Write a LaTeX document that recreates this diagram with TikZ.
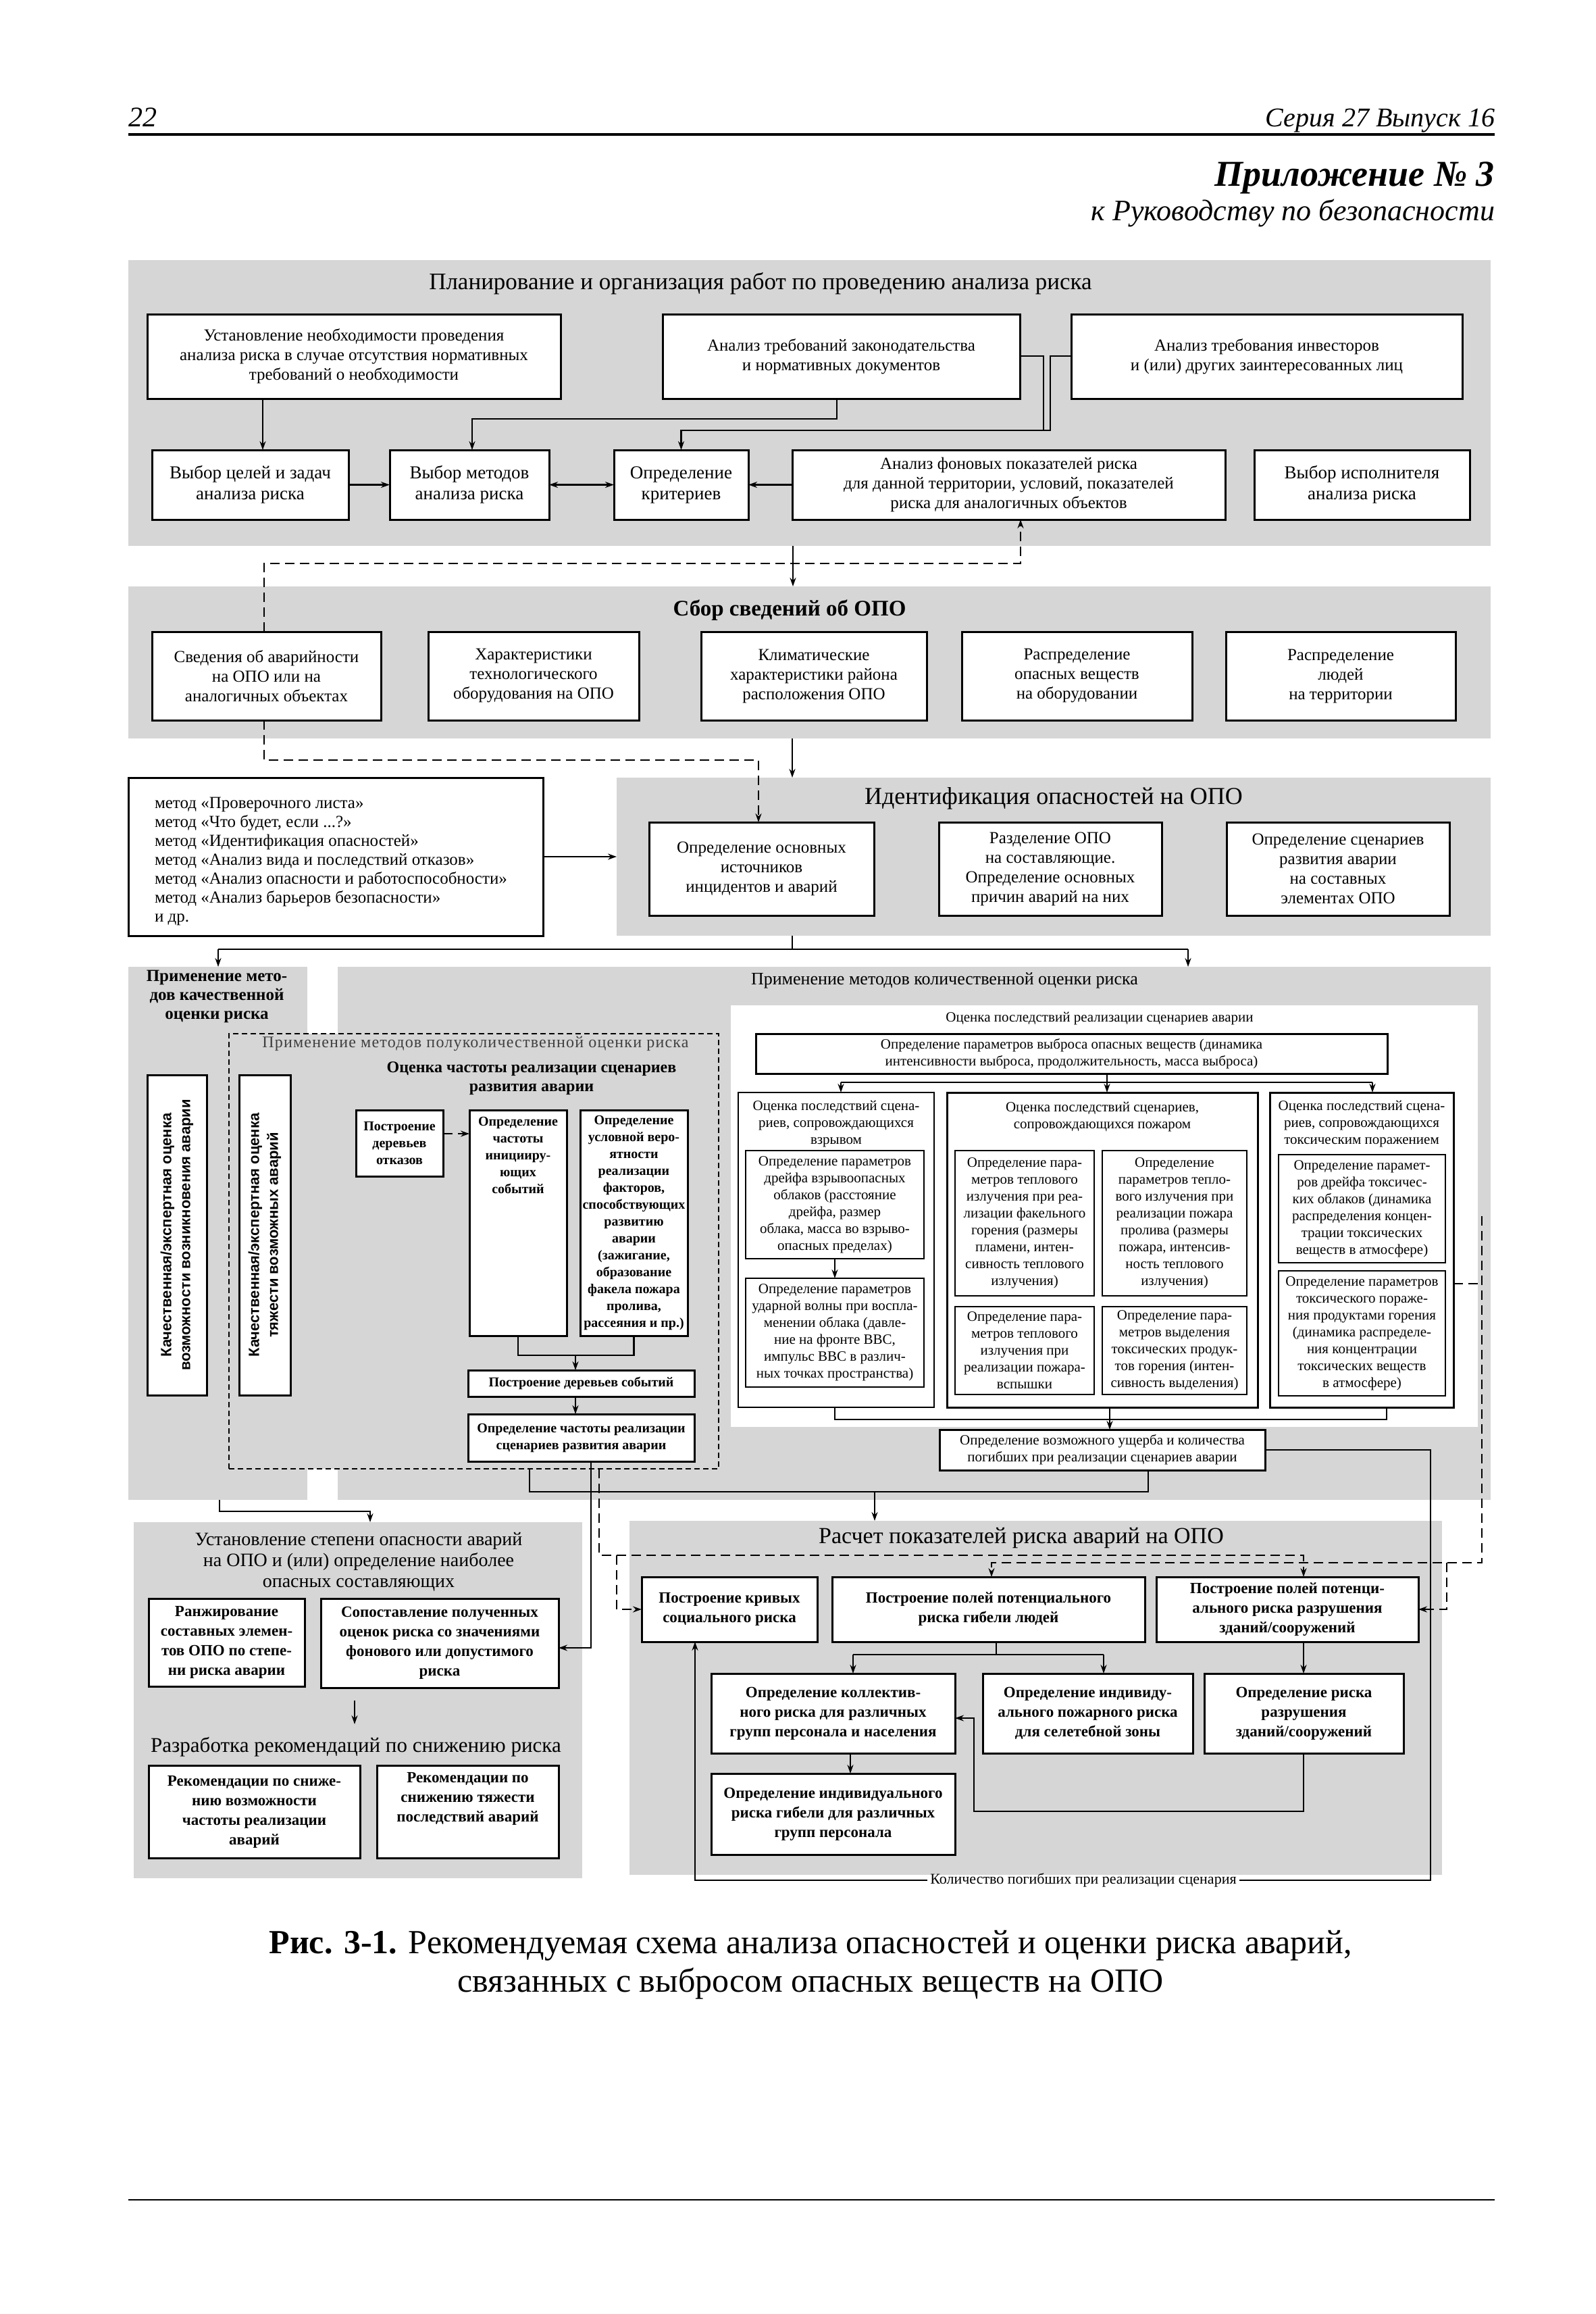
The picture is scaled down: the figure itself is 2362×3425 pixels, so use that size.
\documentclass[tikz,border=0pt]{standalone}
\usepackage{fontspec}
\setmainfont{Liberation Serif}
\newfontfamily\sansf{Liberation Sans}
\usetikzlibrary{arrows.meta,calc}
\definecolor{bandgray}{gray}{0.84}
\newcommand{\FS}[2]{\fontsize{#1}{#2}\selectfont}
\newcommand{\BX}[7][]{\node[box,#1,minimum width={#5-#3},minimum height={#6-#4}] (#2) at ({(#3+#5)/2},{(#4+#6)/2}) {#7};}
\begin{document}
\begin{tikzpicture}[x=1pt,y=-1pt,
 box/.style={draw,line width=3pt,fill=white,align=center,inner sep=2pt,outer sep=0pt,font=\FS{25}{29}},
 band/.style={fill=bandgray,draw=none,inner sep=0pt,outer sep=0pt},
 fb/.style={font=\FS{27}{31}},
 q/.style={font=\FS{21}{25}},
 qb/.style={font={\FS{20}{25}\bfseries}},
 bb/.style={font={\FS{23}{29}\bfseries}},
 thinb/.style={line width=2pt},
 lbl/.style={inner sep=0pt,outer sep=0pt,align=center},
 ln/.style={line width=2.5pt},
 arr/.style={line width=2.5pt,-{Stealth[length=13pt,width=9pt]}},
 arrs/.style={line width=2.5pt,{Stealth[length=13pt,width=9pt]}-{Stealth[length=13pt,width=9pt]}},
 dln/.style={line width=2.5pt,dash pattern=on 14pt off 8pt},
 darr/.style={dln,-{Stealth[length=13pt,width=9pt]}},
]
\fill[white] (0,0) rectangle (2362,3425);
\useasboundingbox (0,0) rectangle (2362,3425);

% ---------- page header ----------
\node[lbl,anchor=base west,font={\FS{42}{48}\itshape}] (pgnum) at (190,188) {22};
\node[lbl,anchor=base east,font={\FS{40}{48}\itshape}] (series) at (2213,188) {Серия 27 Выпуск 16};
\draw[line width=4pt] (190,199) -- (2213,199);
\node[lbl,anchor=base east,font={\FS{54}{60}\bfseries\itshape}] (app) at (2213,276) {Приложение №~3};
\node[lbl,anchor=base east,font={\FS{44}{50}\itshape}] (appsub) at (2213,326) {к Руководству по безопасности};

% ---------- grey bands ----------
\BX[band]{band1}{190}{385}{2207}{808}{}
\BX[band]{band2}{190}{868}{2207}{1093}{}
\BX[band]{band3}{913}{1151}{2207}{1385}{}
\BX[band]{panL}{190}{1431}{455}{2220}{}
\BX[band]{panR}{500}{1431}{2207}{2220}{}
\BX[band,fill=white]{wreg}{1082}{1488}{2188}{2112}{}
\BX[band,draw,line width=2.5pt,dash pattern=on 8pt off 5pt]{dbox}{339}{1530}{1064}{2174}{}
\BX[band]{bandG}{198}{2253}{862}{2780}{}
\BX[band]{band5}{932}{2251}{2135}{2775}{}

% ---------- section 1 ----------
\node[lbl,font=\FS{35}{40}] (t1) at (1126,420) {Планирование и организация работ по проведению анализа риска};
\BX{b11}{218}{465}{830}{590}{Установление необходимости проведения\\анализа риска в случае отсутствия нормативных\\требований о необходимости}
\BX{b12}{981}{465}{1510}{590}{Анализ требований законодательства\\и нормативных документов}
\BX{b13}{1586}{465}{2165}{590}{Анализ требования инвесторов\\и (или) других заинтересованных лиц}
\BX[fb]{b21}{225}{666}{516}{769}{Выбор целей и задач\\анализа риска}
\BX[fb]{b22}{577}{666}{813}{769}{Выбор методов\\анализа риска}
\BX[fb]{b23}{909}{666}{1108}{769}{Определение\\критериев}
\BX{b24}{1173}{666}{1814}{769}{Анализ фоновых показателей риска\\для данной территории, условий, показателей\\риска для аналогичных объектов}
\BX[fb]{b25}{1857}{666}{2176}{769}{Выбор исполнителя\\анализа риска}

% ---------- section 2 ----------
\node[lbl,font={\FS{33}{38}\bfseries}] (t2) at (1169,903) {Сбор сведений об ОПО};
\BX{c1}{225}{935}{564}{1066}{Сведения об аварийности\\на ОПО или на\\аналогичных объектах}
\BX{c2}{634}{935}{946}{1066}{Характеристики\\технологического\\оборудования на ОПО}
\BX{c3}{1038}{935}{1372}{1066}{Климатические\\характеристики района\\расположения ОПО}
\BX{c4}{1424}{935}{1765}{1066}{Распределение\\опасных веществ\\на оборудовании}
\BX{c5}{1815}{935}{2155}{1066}{Распределение\\людей\\на территории}

% ---------- section 3 ----------
\BX{list}{190}{1151}{804}{1385}{}
\node[lbl,anchor=west,align=left,font=\FS{25}{28}] (listtxt) at (229,1275) {метод «Проверочного листа»\\метод «Что будет, если ...?»\\метод «Идентификация опасностей»\\метод «Анализ вида и последствий отказов»\\метод «Анализ опасности и работоспособности»\\метод «Анализ барьеров безопасности»\\и др.};
\node[lbl,font=\FS{36}{40}] (t3) at (1560,1182) {Идентификация опасностей на ОПО};
\BX{d1}{961}{1217}{1294}{1355}{Определение основных\\источников\\инцидентов и аварий}
\BX{d2}{1390}{1217}{1720}{1355}{Разделение ОПО\\на составляющие.\\Определение основных\\причин аварий на них}
\BX{d3}{1816}{1217}{2146}{1355}{Определение сценариев\\развития аварии\\на составных\\элементах ОПО}

% ---------- section 4: qualitative / semi-quantitative ----------
\node[lbl,font={\FS{25}{28}\bfseries}] (tq) at (321,1475) {Применение мето-\\дов качественной\\оценки риска};
\node[lbl,anchor=west,font=\FS{26}{30}] (tk) at (1112,1451) {Применение методов количественной оценки риска};
\node[lbl,font=\FS{24}{28}\addfontfeatures{LetterSpace=5},text=black!75] (tsq) at (704,1545) {Применение методов полуколичественной оценки риска};
\node[lbl,font={\FS{24}{28}\bfseries}] (tf) at (787,1596) {Оценка частоты реализации сценариев\\развития аварии};
\BX{q1}{218}{1591}{306}{2065}{}
\node[lbl,rotate=90,font={\sansf\FS{22}{28}\bfseries}] (q1t) at (q1.center) {Качественная/экспертная оценка\\возможности возникновения аварии};
\BX{q2}{354}{1591}{430}{2065}{}
\node[lbl,rotate=90,font={\sansf\FS{22}{28}\bfseries}] (q2t) at (q2.center) {Качественная/экспертная оценка\\тяжести возможных аварий};
\BX[qb]{e1}{527}{1643}{656}{1741}{Построение\\деревьев\\отказов}
\BX{e2}{695}{1643}{839}{1977}{}
\node[lbl,qb,anchor=north] (e2t) at ($(e2.north)+(0,10)$) {Определение\\частоты\\иницииру-\\ющих\\событий};
\BX[qb]{e3}{859}{1643}{1018}{1977}{Определение\\условной веро-\\ятности\\реализации\\факторов,\\способствующих\\развитию\\аварии\\(зажигание,\\образование\\факела пожара\\пролива,\\рассеяния и пр.)}
\BX[qb]{e4}{693}{2028}{1028}{2067}{Построение деревьев событий}
\BX[qb]{e5}{693}{2093}{1028}{2163}{Определение частоты реализации\\сценариев развития аварии}

% ---------- section 4: quantitative ----------
\node[lbl,q] (tcons) at (1628,1508) {Оценка последствий реализации сценариев аварии};
\BX[q]{j0}{1119}{1530}{2054}{1589}{Определение параметров выброса опасных веществ (динамика\\интенсивности выброса, продолжительность, масса выброса)}
\BX[thinb]{ja}{1093}{1617}{1383}{2083}{}
\node[lbl,q,anchor=north] (jat) at ($(ja.north)+(0,12)$) {Оценка последствий сцена-\\риев, сопровождающихся\\взрывом};
\BX[q,thinb]{ja1}{1104}{1703}{1368}{1863}{Определение параметров\\дрейфа взрывоопасных\\облаков (расстояние\\дрейфа, размер\\облака, масса во взрыво-\\опасных пределах)}
\BX[q,thinb]{ja2}{1104}{1892}{1368}{2053}{Определение параметров\\ударной волны при воспла-\\менении облака (давле-\\ние на фронте ВВС,\\импульс ВВС в различ-\\ных точках пространства)}
\BX{jb}{1402}{1617}{1862}{2083}{}
\node[lbl,q,anchor=north] (jbt) at ($(jb.north)+(0,14)$) {Оценка последствий сценариев,\\сопровождающихся пожаром};
\BX[q,thinb]{jb1}{1414}{1703}{1620}{1918}{Определение пара-\\метров теплового\\излучения при реа-\\лизации факельного\\горения (размеры\\пламени, интен-\\сивность теплового\\излучения)}
\BX[q,thinb]{jb2}{1632}{1703}{1846}{1918}{Определение\\параметров тепло-\\вого излучения при\\реализации пожара\\пролива (размеры\\пожара, интенсив-\\ность теплового\\излучения)}
\BX[q,thinb]{jb3}{1414}{1934}{1620}{2064}{Определение пара-\\метров теплового\\излучения при\\реализации пожара-\\вспышки}
\BX[q,thinb]{jb4}{1632}{1934}{1846}{2064}{Определение пара-\\метров выделения\\токсических продук-\\тов горения (интен-\\сивность выделения)}
\BX{jc}{1880}{1617}{2152}{2083}{}
\node[lbl,q,anchor=north] (jct) at ($(jc.north)+(0,12)$) {Оценка последствий сцена-\\риев, сопровождающихся\\токсическим поражением};
\BX[q,thinb]{jc1}{1893}{1709}{2140}{1869}{Определение парамет-\\ров дрейфа токсичес-\\ких облаков (динамика\\распределения концен-\\трации токсических\\веществ в атмосфере)}
\BX[q,thinb]{jc2}{1893}{1881}{2140}{2066}{Определение параметров\\токсического пораже-\\ния продуктами горения\\(динамика распределе-\\ния концентрации\\токсических веществ\\в атмосфере)}
\BX[q]{f}{1391}{2116}{1873}{2176}{Определение возможного ущерба и количества\\погибших при реализации сценариев аварии}

% ---------- lower left ----------
\node[lbl,font=\FS{28}{31}] (tg) at (531,2312) {Установление степени опасности аварий\\на ОПО и (или) определение наиболее\\опасных составляющих};
\BX[bb]{g1}{220}{2366}{451}{2496}{Ранжирование\\составных элемен-\\тов ОПО по степе-\\ни риска аварии}
\BX[bb]{g2}{475}{2366}{827}{2498}{Сопоставление полученных\\оценок риска со значениями\\фонового или допустимого\\риска}
\node[lbl,font=\FS{31}{35}] (tr) at (527,2586) {Разработка рекомендаций по снижению риска};
\BX[bb]{k1}{220}{2613}{533}{2750}{Рекомендации по сниже-\\нию возможности\\частоты реализации\\аварий}
\BX{k2}{558}{2613}{827}{2750}{}
\node[lbl,bb,anchor=north] (k2t) at ($(k2.north)+(0,10)$) {Рекомендации по\\снижению тяжести\\последствий аварий};

% ---------- lower right ----------
\node[lbl,font=\FS{34}{38}] (t5) at (1512,2276) {Расчет показателей риска аварий на ОПО};
\BX[bb]{h1}{950}{2334}{1210}{2430}{Построение кривых\\социального риска}
\BX[bb]{h2}{1232}{2334}{1695}{2430}{Построение полей потенциального\\риска гибели людей}
\BX[bb]{h3}{1712}{2334}{2100}{2430}{Построение полей потенци-\\ального риска разрушения\\зданий/сооружений}
\BX[bb]{i1}{1053}{2477}{1414}{2595}{Определение коллектив-\\ного риска для различных\\групп персонала и населения}
\BX[bb]{i2}{1455}{2477}{1766}{2595}{Определение индивиду-\\ального пожарного риска\\для селетебной зоны}
\BX[bb]{i3}{1783}{2477}{2078}{2595}{Определение риска\\разрушения\\зданий/сооружений}
\BX[bb]{i4}{1053}{2625}{1414}{2745}{Определение индивидуального\\риска гибели для различных\\групп персонала}
\node[lbl,font=\FS{22}{25},inner xsep=4pt] (kol) at (1604,2783) {Количество погибших при реализации сценария};

% ---------- caption and footer ----------
\node[lbl,font=\FS{50}{57}] (cap) at (1200,2908) {\textbf{Рис. 3-1.} Рекомендуемая схема анализа опасностей и оценки риска аварий,\\связанных с выбросом опасных веществ на ОПО};
\draw[line width=2pt] (190,3256) -- (2213,3256);

% ---------- junction coordinates ----------
\coordinate (jA) at (1173,1405);
\coordinate (jL) at (323,1405);
\coordinate (jR) at (1759,1405);
\coordinate (jE) at (852,2006);
\coordinate (jJ) at (1639,1602);
\coordinate (jJa) at (1245,1602);
\coordinate (jJc) at (2032,1602);
\coordinate (jF) at (1643,2101);
\coordinate (jS) at (1295,2208);
\coordinate (jH) at (1475,2449);
\coordinate (jHa) at (1263,2449);
\coordinate (jHb) at (1634,2449);
\coordinate (jD) at (913,2302);
\coordinate (jT) at (2142,2313);
\coordinate (jG) at (525,2517);

% ---------- connectors: section 1 ----------
\draw[arr] (b11.south -| 389,0) -- (b21.north -| 389,0);
\draw[arr] (b21.east) -- (b22.west);
\draw[arrs] (b22.east) -- (b23.west);
\draw[arr] (b24.west) -- (b23.east);
\draw[arr] (b12.south -| 1239,0) |- (699,620) -- (b22.north -| 699,0);
\draw[ln] (b12.east |- 0,527) -| (1545,637);
\draw[arr] (b13.west |- 0,527) -| (1555,637) -| (b23.north);
\draw[arr] (band1.south -| 1174,0) -- (band2.north -| 1174,0);
\draw[darr] (c1.north -| 391,0) |- (1511,834) -- (b24.south -| 1511,0);
% ---------- section 2/3 ----------
\draw[darr] (c1.south -| 391,0) |- (1123,1125) -- (d1.north -| 1123,0);
\draw[arr] (band2.south -| 1173,0) -- (band3.north -| 1173,0);
\draw[arr] (list.east) -- (band3.west |- list.east);
\draw[ln] (band3.south -| jA) -- (jA);
\draw[ln] (jL) -- (jR);
\draw[arr] (jL) -- (panL.north -| jL);
\draw[arr] (jR) -- (panR.north -| jR);
% ---------- semi-quantitative ----------
\draw[darr] (e1.east |- 0,1678) -- (e2.west |- 0,1678);
\draw[ln] (e2.south) |- (jE) -| (e3.south);
\draw[arr] (jE) -- (e4.north -| jE);
\draw[arr] (e4.south -| jE) -- (e5.north -| jE);
% ---------- quantitative ----------
\draw[ln] (j0.south -| jJ) -- (jJ);
\draw[ln] (jJa) -- (jJc);
\draw[arr] (jJa) -- (ja.north -| jJa);
\draw[arr] (jJ) -- (jb.north -| jJ);
\draw[arr] (jJc) -- (jc.north -| jJc);
\draw[arr] (ja1.south -| 1236,0) -- (ja2.north -| 1236,0);
\draw[ln] (ja.south -| 1236,0) |- (jF) -| (jc.south -| 2053,0);
\draw[ln] (jb.south -| jF) -- (jF);
\draw[arr] (jF) -- (f.north -| jF);
\draw[dln] (jc.east |- 0,1900) -- (2194,1900);
% ---------- to lower sections ----------
\draw[ln] (f.south -| 1700,0) |- (784,2208) -- (dbox.south -| 784,0);
\draw[arr] (jS) -- (band5.north -| jS);
\draw[arr] (e5.south -| 875,0) |- (g2.east |- 0,2439);
\draw[darr] (dbox.south -| 887,0) |- (1930,2302) -- (h3.north -| 1930,0);
\draw[darr] (jD) |- (h1.west);
\draw[darr] (2194,1800) |- (1468,2313) -- (h2.north -| 1468,0);
\draw[darr] (jT) |- (h3.east);
\draw[arr] (panL.south -| 325,0) |- (548,2237) -- (bandG.north -| 548,0);
\draw[arr] (jG) -- ++(0,35);
% ---------- risk calculation ----------
\draw[ln] (h2.south -| jH) -- (jH);
\draw[ln] (jHa) -- (jHb);
\draw[arr] (jHa) -- (i1.north -| jHa);
\draw[arr] (jHb) -- (i2.north -| jHb);
\draw[arr] (h3.south -| 1930,0) -- (i3.north -| 1930,0);
\draw[arr] (i1.south -| 1259,0) -- (i4.north -| 1259,0);
\draw[arr] (i3.south -| 1930,0) |- (1442,2681) |- (i1.east |- 0,2543);
\draw[ln] (f.east) -| (2118,2783) -- (kol.east);
\draw[arr] (kol.west) -| (h1.south -| 1029,0);
\end{tikzpicture}
\end{document}
